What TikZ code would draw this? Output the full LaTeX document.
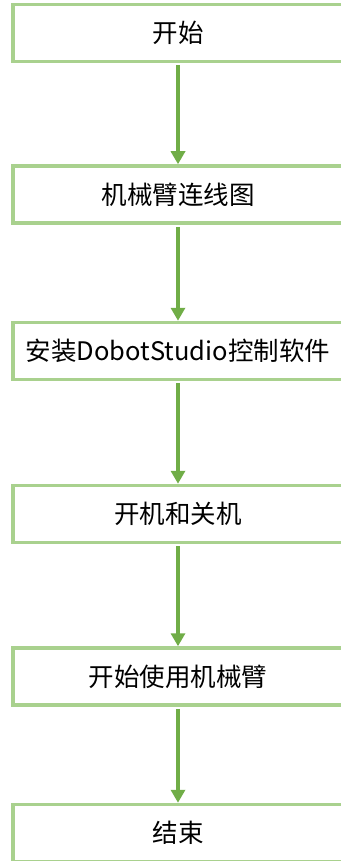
\documentclass[tikz,border=0pt]{standalone}
\usepackage{fontspec}
\newfontfamily\cjk{Noto Sans CJK SC}
\usetikzlibrary{arrows.meta}
\definecolor{boxgreen}{HTML}{A9D18E}
\definecolor{arrgreen}{HTML}{70AD47}
\begin{document}
\begin{tikzpicture}[x=1pt,y=-1pt,
  flowbox/.style={draw=boxgreen, line width=3.5pt, fill=white, minimum width=330pt, minimum height=57pt, inner sep=0pt, font=\cjk\fontsize{25.5}{28}\selectfont},
  flowarrow/.style={draw=arrgreen, line width=3.5pt, -{Triangle[length=13pt,width=14pt]}, shorten <=2pt}]
\useasboundingbox (0,0) rectangle (340,861);
\node[flowbox] (n1) at (178,33) {开始};
\node[flowbox] (n2) at (178,194.5) {机械臂连线图};
\node[flowbox] (n3) at (178,351) {安装DobotStudio控制软件};
\node[flowbox] (n4) at (178,514) {开机和关机};
\node[flowbox] (n5) at (178,676.5) {开始使用机械臂};
\node[flowbox] (n6) at (178,833) {结束};
\draw[flowarrow] (n1) -- (n2);
\draw[flowarrow] (n2) -- (n3);
\draw[flowarrow] (n3) -- (n4);
\draw[flowarrow] (n4) -- (n5);
\draw[flowarrow] (n5) -- (n6);
\end{tikzpicture}
\end{document}
